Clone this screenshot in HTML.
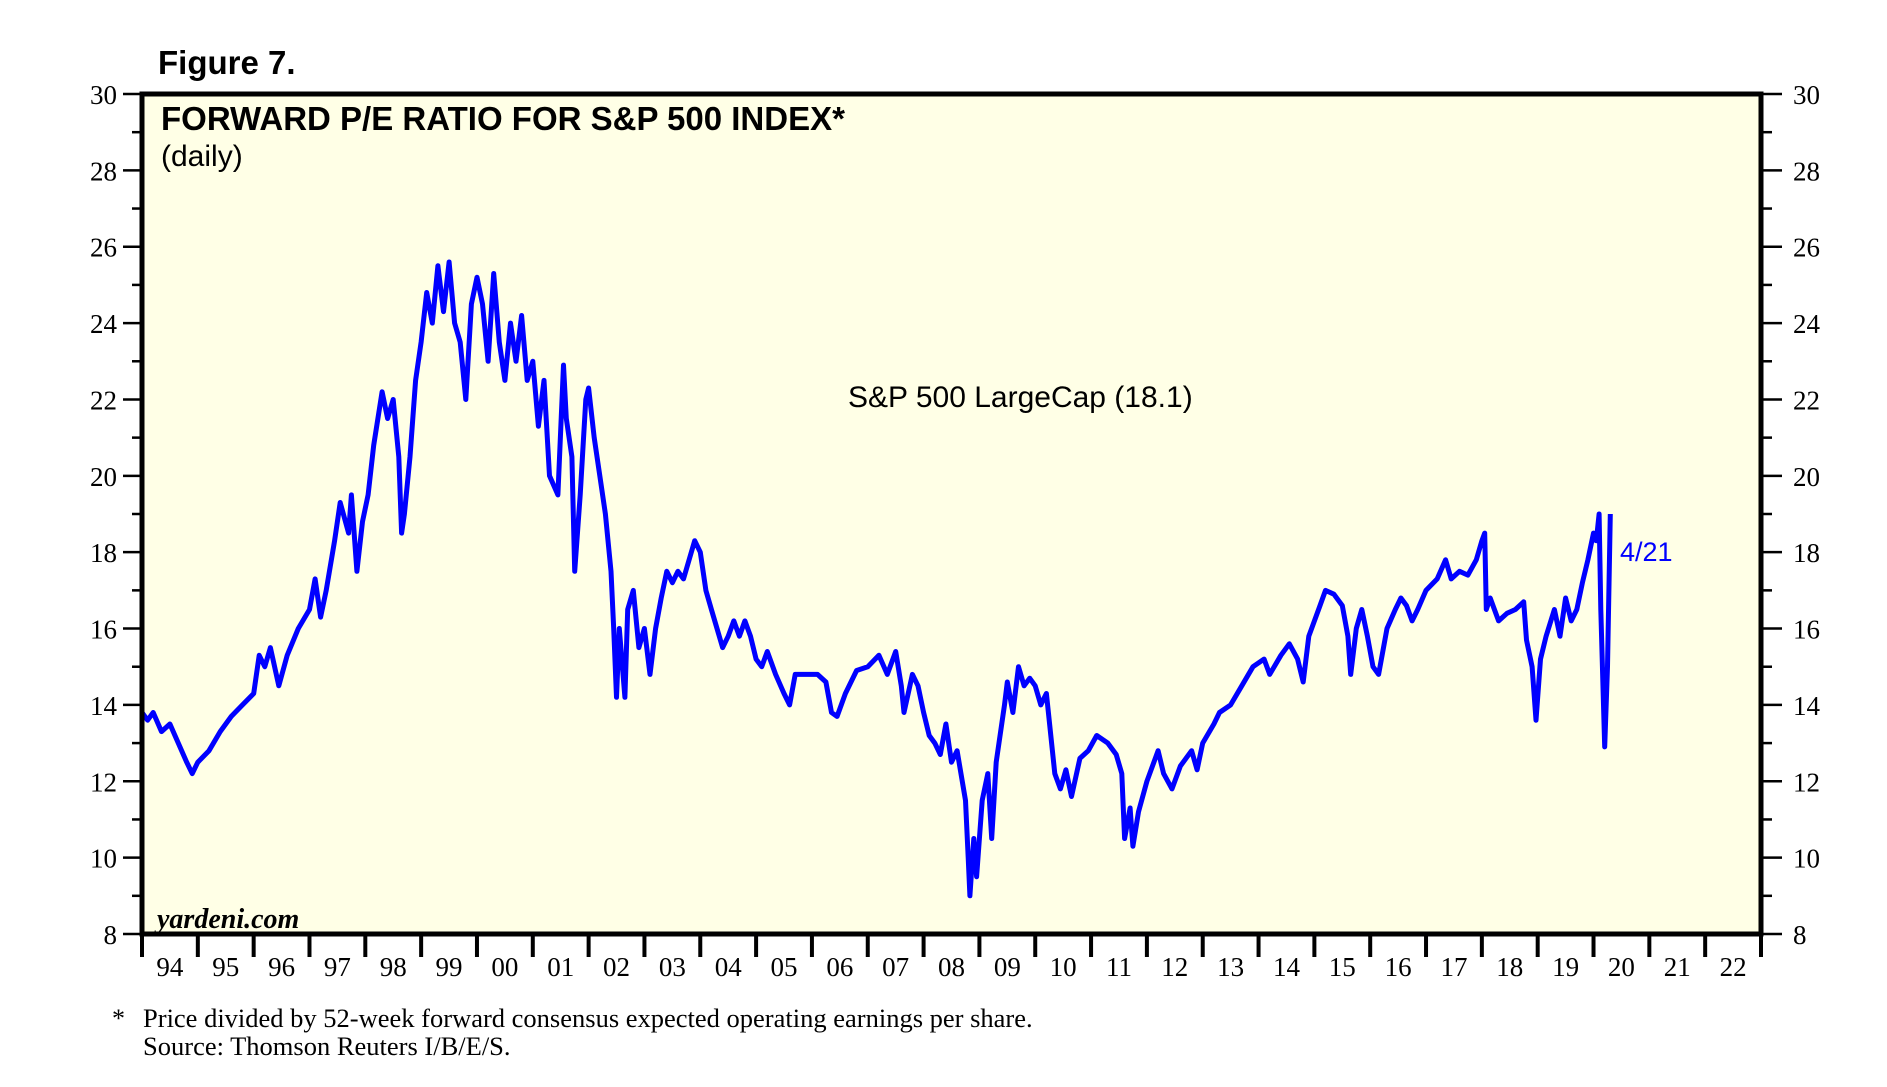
<!DOCTYPE html>
<html><head><meta charset="utf-8"><style>
body{margin:0;background:#fff;}
svg{display:block;}
</style></head><body>
<svg id="chart" width="1887" height="1087" xmlns="http://www.w3.org/2000/svg">
<text x="158" y="74" font-family="Liberation Sans, sans-serif" font-weight="bold" font-size="33">Figure 7.</text>
<rect x="142" y="94" width="1619" height="840" fill="#ffffe6"/>
<g id="series"></g>
<rect x="142" y="94" width="1619" height="840" fill="none" stroke="#000" stroke-width="5"/>
<g id="axes"></g>
<text x="161" y="130" font-family="Liberation Sans, sans-serif" font-weight="bold" font-size="33">FORWARD P/E RATIO FOR S&amp;P 500 INDEX*</text>
<text x="161" y="166" font-family="Liberation Sans, sans-serif" font-size="30">(daily)</text>
<text x="848" y="407" font-family="Liberation Sans, sans-serif" font-size="30">S&amp;P 500 LargeCap (18.1)</text>
<text x="1620" y="561" font-family="Liberation Sans, sans-serif" font-size="27" fill="#0000ff">4/21</text>
<text x="157" y="928" font-family="Liberation Serif, serif" font-style="italic" font-weight="bold" font-size="28">yardeni.com</text>
<text x="112" y="1027" font-family="Liberation Serif, serif" font-size="26">*</text>
<text x="143" y="1027" font-family="Liberation Serif, serif" font-size="26.5">Price divided by 52-week forward consensus expected operating earnings per share.</text>
<text x="143" y="1055" font-family="Liberation Serif, serif" font-size="26.5">Source: Thomson Reuters I/B/E/S.</text>
</svg>
<script>
const yearLabels=["94","95","96","97","98","99","00","01","02","03","04","05","06","07","08","09","10","11","12","13","14","15","16","17","18","19","20","21","22"];
const yTicks=[8,10,12,14,16,18,20,22,24,26,28,30];
const dates=[1994.0,1994.1,1994.2,1994.35,1994.5,1994.65,1994.8,1994.9,1995.0,1995.2,1995.4,1995.6,1995.8,1996.0,1996.1,1996.2,1996.3,1996.45,1996.6,1996.8,1997.0,1997.1,1997.2,1997.3,1997.45,1997.55,1997.7,1997.75,1997.85,1997.95,1998.05,1998.15,1998.3,1998.4,1998.5,1998.6,1998.65,1998.7,1998.8,1998.9,1999.0,1999.1,1999.2,1999.3,1999.4,1999.5,1999.6,1999.7,1999.8,1999.9,2000.0,2000.1,2000.2,2000.3,2000.4,2000.5,2000.6,2000.7,2000.8,2000.9,2001.0,2001.1,2001.2,2001.3,2001.45,2001.55,2001.6,2001.7,2001.75,2001.85,2001.95,2002.0,2002.1,2002.2,2002.3,2002.4,2002.45,2002.5,2002.55,2002.65,2002.7,2002.8,2002.9,2003.0,2003.1,2003.2,2003.3,2003.4,2003.5,2003.6,2003.7,2003.8,2003.9,2004.0,2004.1,2004.2,2004.3,2004.4,2004.5,2004.6,2004.7,2004.8,2004.9,2005.0,2005.1,2005.2,2005.35,2005.5,2005.6,2005.7,2005.9,2006.1,2006.25,2006.35,2006.45,2006.6,2006.8,2007.0,2007.2,2007.35,2007.5,2007.6,2007.65,2007.8,2007.9,2008.0,2008.1,2008.2,2008.3,2008.4,2008.5,2008.6,2008.75,2008.8,2008.83,2008.9,2008.95,2009.05,2009.15,2009.22,2009.3,2009.45,2009.5,2009.6,2009.7,2009.8,2009.9,2010.0,2010.1,2010.2,2010.35,2010.45,2010.55,2010.65,2010.8,2010.95,2011.1,2011.3,2011.45,2011.55,2011.6,2011.7,2011.75,2011.85,2012.0,2012.2,2012.3,2012.45,2012.6,2012.8,2012.9,2013.0,2013.2,2013.3,2013.5,2013.7,2013.9,2014.1,2014.2,2014.4,2014.55,2014.7,2014.8,2014.9,2015.1,2015.2,2015.35,2015.5,2015.6,2015.65,2015.75,2015.85,2015.95,2016.05,2016.15,2016.3,2016.45,2016.55,2016.65,2016.75,2016.85,2017.0,2017.2,2017.35,2017.45,2017.6,2017.75,2017.9,2018.0,2018.05,2018.08,2018.15,2018.3,2018.45,2018.6,2018.75,2018.8,2018.9,2018.97,2019.05,2019.15,2019.3,2019.4,2019.5,2019.6,2019.7,2019.8,2019.9,2020.0,2020.05,2020.1,2020.13,2020.2,2020.25,2020.3];
const peValues=[13.8,13.6,13.8,13.3,13.5,13.0,12.5,12.2,12.5,12.8,13.3,13.7,14.0,14.3,15.3,15.0,15.5,14.5,15.3,16.0,16.5,17.3,16.3,17.0,18.3,19.3,18.5,19.5,17.5,18.8,19.5,20.8,22.2,21.5,22.0,20.5,18.5,19.0,20.5,22.5,23.5,24.8,24.0,25.5,24.3,25.6,24.0,23.5,22.0,24.5,25.2,24.5,23.0,25.3,23.5,22.5,24.0,23.0,24.2,22.5,23.0,21.3,22.5,20.0,19.5,22.9,21.5,20.5,17.5,19.5,22.0,22.3,21.0,20.0,19.0,17.5,16.0,14.2,16.0,14.2,16.5,17.0,15.5,16.0,14.8,16.0,16.8,17.5,17.2,17.5,17.3,17.8,18.3,18.0,17.0,16.5,16.0,15.5,15.8,16.2,15.8,16.2,15.8,15.2,15.0,15.4,14.8,14.3,14.0,14.8,14.8,14.8,14.6,13.8,13.7,14.3,14.9,15.0,15.3,14.8,15.4,14.5,13.8,14.8,14.5,13.8,13.2,13.0,12.7,13.5,12.5,12.8,11.5,10.0,9.0,10.5,9.5,11.5,12.2,10.5,12.5,14.0,14.6,13.8,15.0,14.5,14.7,14.5,14.0,14.3,12.2,11.8,12.3,11.6,12.6,12.8,13.2,13.0,12.7,12.2,10.5,11.3,10.3,11.2,12.0,12.8,12.2,11.8,12.4,12.8,12.3,13.0,13.5,13.8,14.0,14.5,15.0,15.2,14.8,15.3,15.6,15.2,14.6,15.8,16.6,17.0,16.9,16.6,15.8,14.8,16.0,16.5,15.8,15.0,14.8,16.0,16.5,16.8,16.6,16.2,16.5,17.0,17.3,17.8,17.3,17.5,17.4,17.8,18.3,18.5,16.5,16.8,16.2,16.4,16.5,16.7,15.7,15.0,13.6,15.2,15.8,16.5,15.8,16.8,16.2,16.5,17.2,17.8,18.5,18.3,19.0,16.5,12.9,15.0,19.0];

const NS="http://www.w3.org/2000/svg";
const L=142,R=1761,T=94,B=934;
function xScale(yr){return L+(yr-1994)/29*(R-L);}
function yScale(v){return B-(v-8)/22*(B-T);}
const axes=document.getElementById('axes');
const series=document.getElementById('series');
function mk(tag,attrs,parent){const e=document.createElementNS(NS,tag);for(const k in attrs)e.setAttribute(k,attrs[k]);parent.appendChild(e);return e;}

for(let v=8;v<=30;v++){
  const y=yScale(v);
  const major=(v%2===0);
  const lt=mk('line',{x1:major?123:132,x2:141,y1:y,y2:y,stroke:'#000','stroke-width':2.5},axes);
  
  
  const rt=mk('line',{x1:1762,x2:major?1782:1772,y1:y,y2:y,stroke:'#000','stroke-width':2.5},axes);
  
  
}
yTicks.forEach(v=>{
  const y=yScale(v);
  const a=mk('text',{x:117,y:y+10,'text-anchor':'end','font-family':'Liberation Serif, serif','font-size':27},axes);
  a.textContent=v;
  
  
  const b=mk('text',{x:1793,y:y+10,'font-family':'Liberation Serif, serif','font-size':27},axes);
  b.textContent=v;
  
  
});
for(let i=0;i<=yearLabels.length;i++){
  const x=xScale(1994+i);
  const t=mk('line',{x1:x,x2:x,y1:934,y2:957,stroke:'#000','stroke-width':4},axes);
  
  
}
yearLabels.forEach((lab,i)=>{
  const x=xScale(1994+i+0.5);
  const t=mk('text',{x:x,y:976,'text-anchor':'middle','font-family':'Liberation Serif, serif','font-size':27},axes);
  t.textContent=lab;
  
  
});
let d='';
dates.forEach((yr,i)=>{d+=(i?'L':'M')+xScale(yr).toFixed(1)+','+yScale(peValues[i]).toFixed(1);});
const p=mk('path',{d:d,fill:'none',stroke:'#0000ff','stroke-width':5,'stroke-linejoin':'round'},series);


</script>
</body></html>
